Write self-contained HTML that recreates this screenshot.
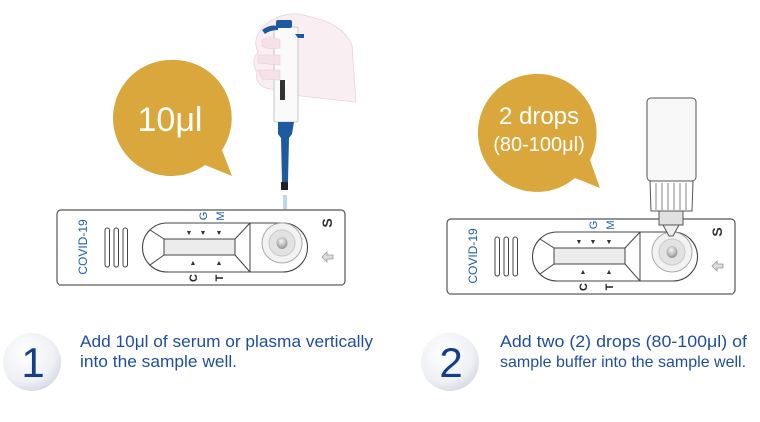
<!DOCTYPE html>
<html><head><meta charset="utf-8"><style>
html,body{margin:0;padding:0;background:#fff;width:760px;height:422px;overflow:hidden}
svg{display:block}
text{font-family:"Liberation Sans",sans-serif}
</style></head><body>
<svg width="760" height="422" viewBox="0 0 760 422" xmlns="http://www.w3.org/2000/svg">
<defs>
<radialGradient id="sg" cx="0.4" cy="0.35" r="0.7">
<stop offset="0" stop-color="#ffffff"/><stop offset="0.7" stop-color="#eef0f5"/><stop offset="1" stop-color="#d4d8e2"/>
</radialGradient>
<radialGradient id="drop" cx="0.45" cy="0.35" r="0.6">
<stop offset="0" stop-color="#f4f4f4"/><stop offset="1" stop-color="#9a9a9a"/>
</radialGradient>
<g id="cas">
<rect x="0" y="0" width="288" height="75" rx="4" fill="#fff" stroke="#555" stroke-width="1.2"/>
<path d="M2 75 L286 75" stroke="#999" stroke-width="2"/>
<text x="0" y="0" transform="translate(30,37) rotate(-90)" text-anchor="middle" font-size="12" fill="#1a5fa8">COVID-19</text>
<rect x="48" y="18" width="4.5" height="39" rx="2.2" fill="#fff" stroke="#444"/>
<rect x="57" y="18" width="4.5" height="39" rx="2.2" fill="#fff" stroke="#444"/>
<rect x="66" y="18" width="4.5" height="39" rx="2.2" fill="#fff" stroke="#444"/>
<path d="M110 13 L226 13 A24.5 24.5 0 0 1 226 62 L110 62 A24.5 24.5 0 0 1 110 13 Z" fill="#fff" stroke="#444" stroke-width="1.1"/>
<line x1="193" y1="13" x2="193" y2="62" stroke="#444"/>
<path d="M93 20 L107 29 L107 45 L93 55" fill="none" stroke="#444"/>
<path d="M193 13 L178 29 L178 45 L193 62" fill="none" stroke="#444"/>
<rect x="107" y="29" width="71" height="16" fill="#ececec" stroke="#444"/>
<circle cx="225" cy="33" r="20" fill="#f2f2f2" stroke="#aaa"/>
<circle cx="225" cy="33" r="13" fill="#e2e2e2" stroke="#c8c8c8"/>
<ellipse cx="225" cy="33" rx="5.5" ry="6" fill="url(#drop)"/>
<g font-size="7" fill="#333" text-anchor="middle"><text x="132" y="25">▼</text><text x="146" y="25">▼</text><text x="162" y="25">▼</text>
<text x="136" y="55">▲</text><text x="162" y="55">▲</text></g>
<text transform="translate(146,6) rotate(-90)" text-anchor="middle" dy="4" font-size="11" fill="#1a5fa8">G</text>
<text transform="translate(163,6) rotate(-90)" text-anchor="middle" dy="4" font-size="11" fill="#1a5fa8">M</text>
<text transform="translate(136,68) rotate(-90)" text-anchor="middle" dy="4" font-size="11" font-weight="bold" fill="#222">C</text>
<text transform="translate(162,68) rotate(-90)" text-anchor="middle" dy="4" font-size="11" font-weight="bold" fill="#222">T</text>
<text transform="translate(270,13) rotate(-90)" text-anchor="middle" dy="5" font-size="14" font-weight="bold" fill="#333">S</text>
<path d="M265 47 L270 42 L270 45 L276 45 L276 49 L270 49 L270 52 Z" fill="#ddd" stroke="#999" stroke-width="0.8"/>
</g>
</defs>

<path d="M170 60 A58 58 0 1 0 205 165 L232 176 L222 150 A58 58 0 0 0 170 60 Z" fill="#d9a73c"/>
<text x="170" y="131" text-anchor="middle" font-size="34" fill="#fff">10μl</text>

<path d="M262 28 Q278 12 300 14 L322 20 Q345 28 352 45 L356 102 L300 96 L290 92 L265 88 Q254 82 257 72 Q250 62 258 52 Q252 40 262 28 Z" fill="#f9eef2" stroke="#ecd2da" stroke-width="0.8"/>
<line x1="285" y1="195" x2="285" y2="232" stroke="#bcd8ea" stroke-width="4"/>
<rect x="274" y="27" width="24" height="95" rx="2" fill="#fafafa" stroke="#bbb" stroke-width="0.8"/>
<path d="M262 30 Q270 24 278 26 L278 30 Q270 30 265 34 Z" fill="#1e5aa0"/>
<rect x="276" y="20" width="16" height="8" rx="2" fill="#1e5aa0"/>
<path d="M295 34 L304 34 L304 38 L298 38 Z" fill="#1e5aa0"/>
<rect x="280" y="80" width="5" height="20" fill="#333"/>
<path d="M278 122 L294 122 L292 134 L289 138 L288 182 L282 182 L281 138 L278 134 Z" fill="#1e5aa0"/>
<rect x="281" y="182" width="7" height="8" fill="#222"/>
<path d="M262 40 Q270 35 280 40 L280 48 Q268 50 262 46 Z M258 55 L280 55 L280 65 L258 63 Z M258 70 L280 70 L280 80 L262 79 Z" fill="#f5e2e9" stroke="#e8ccd6" stroke-width="0.6"/>

<use href="#cas" x="57" y="210"/>

<path d="M540 74 A59 59 0 1 0 575 178 L600 188 L590 160 A59 59 0 0 0 540 74 Z" fill="#d9a73c"/>
<text x="539" y="124" text-anchor="middle" font-size="24" fill="#fff">2 drops</text>
<text x="539" y="151" text-anchor="middle" font-size="20" fill="#fff">(80-100μl)</text>

<use href="#cas" x="447" y="219"/>

<rect x="647" y="98" width="49" height="83" rx="4" fill="#f8f8f8" stroke="#555" stroke-width="1"/>
<path d="M650 181 L693 181 L692 211 L651 211 Z" fill="#fff" stroke="#555"/>
<g stroke="#666" stroke-width="0.8"><line x1="656" y1="183" x2="656" y2="210"/><line x1="662" y1="183" x2="662" y2="210"/><line x1="668" y1="183" x2="668" y2="210"/><line x1="674" y1="183" x2="674" y2="210"/><line x1="680" y1="183" x2="680" y2="210"/><line x1="686" y1="183" x2="686" y2="210"/></g>
<rect x="659" y="211" width="24" height="14" fill="#e0e0e0" stroke="#555"/>
<path d="M663 225 L679 225 L673 236 L669 236 Z" fill="#eee" stroke="#555"/>

<circle cx="32" cy="362" r="29" fill="url(#sg)"/>
<text x="33" y="377" text-anchor="middle" font-size="42" fill="#123f8a">1</text>
<text x="80" y="347" font-size="16.5" fill="#1f4e9c" textLength="293" lengthAdjust="spacingAndGlyphs">Add 10μl of serum or plasma vertically</text>
<text x="80" y="367" font-size="16.5" fill="#1f4e9c" textLength="157" lengthAdjust="spacingAndGlyphs">into the sample well.</text>
<circle cx="450" cy="362" r="29" fill="url(#sg)"/>
<text x="451" y="377" text-anchor="middle" font-size="42" fill="#123f8a">2</text>
<text x="500" y="347" font-size="16.5" fill="#1f4e9c" textLength="247" lengthAdjust="spacingAndGlyphs">Add two (2) drops (80-100μl) of</text>
<text x="500" y="367" font-size="16" fill="#1f4e9c">sample buffer into the sample well.</text>
</svg>
</body></html>
